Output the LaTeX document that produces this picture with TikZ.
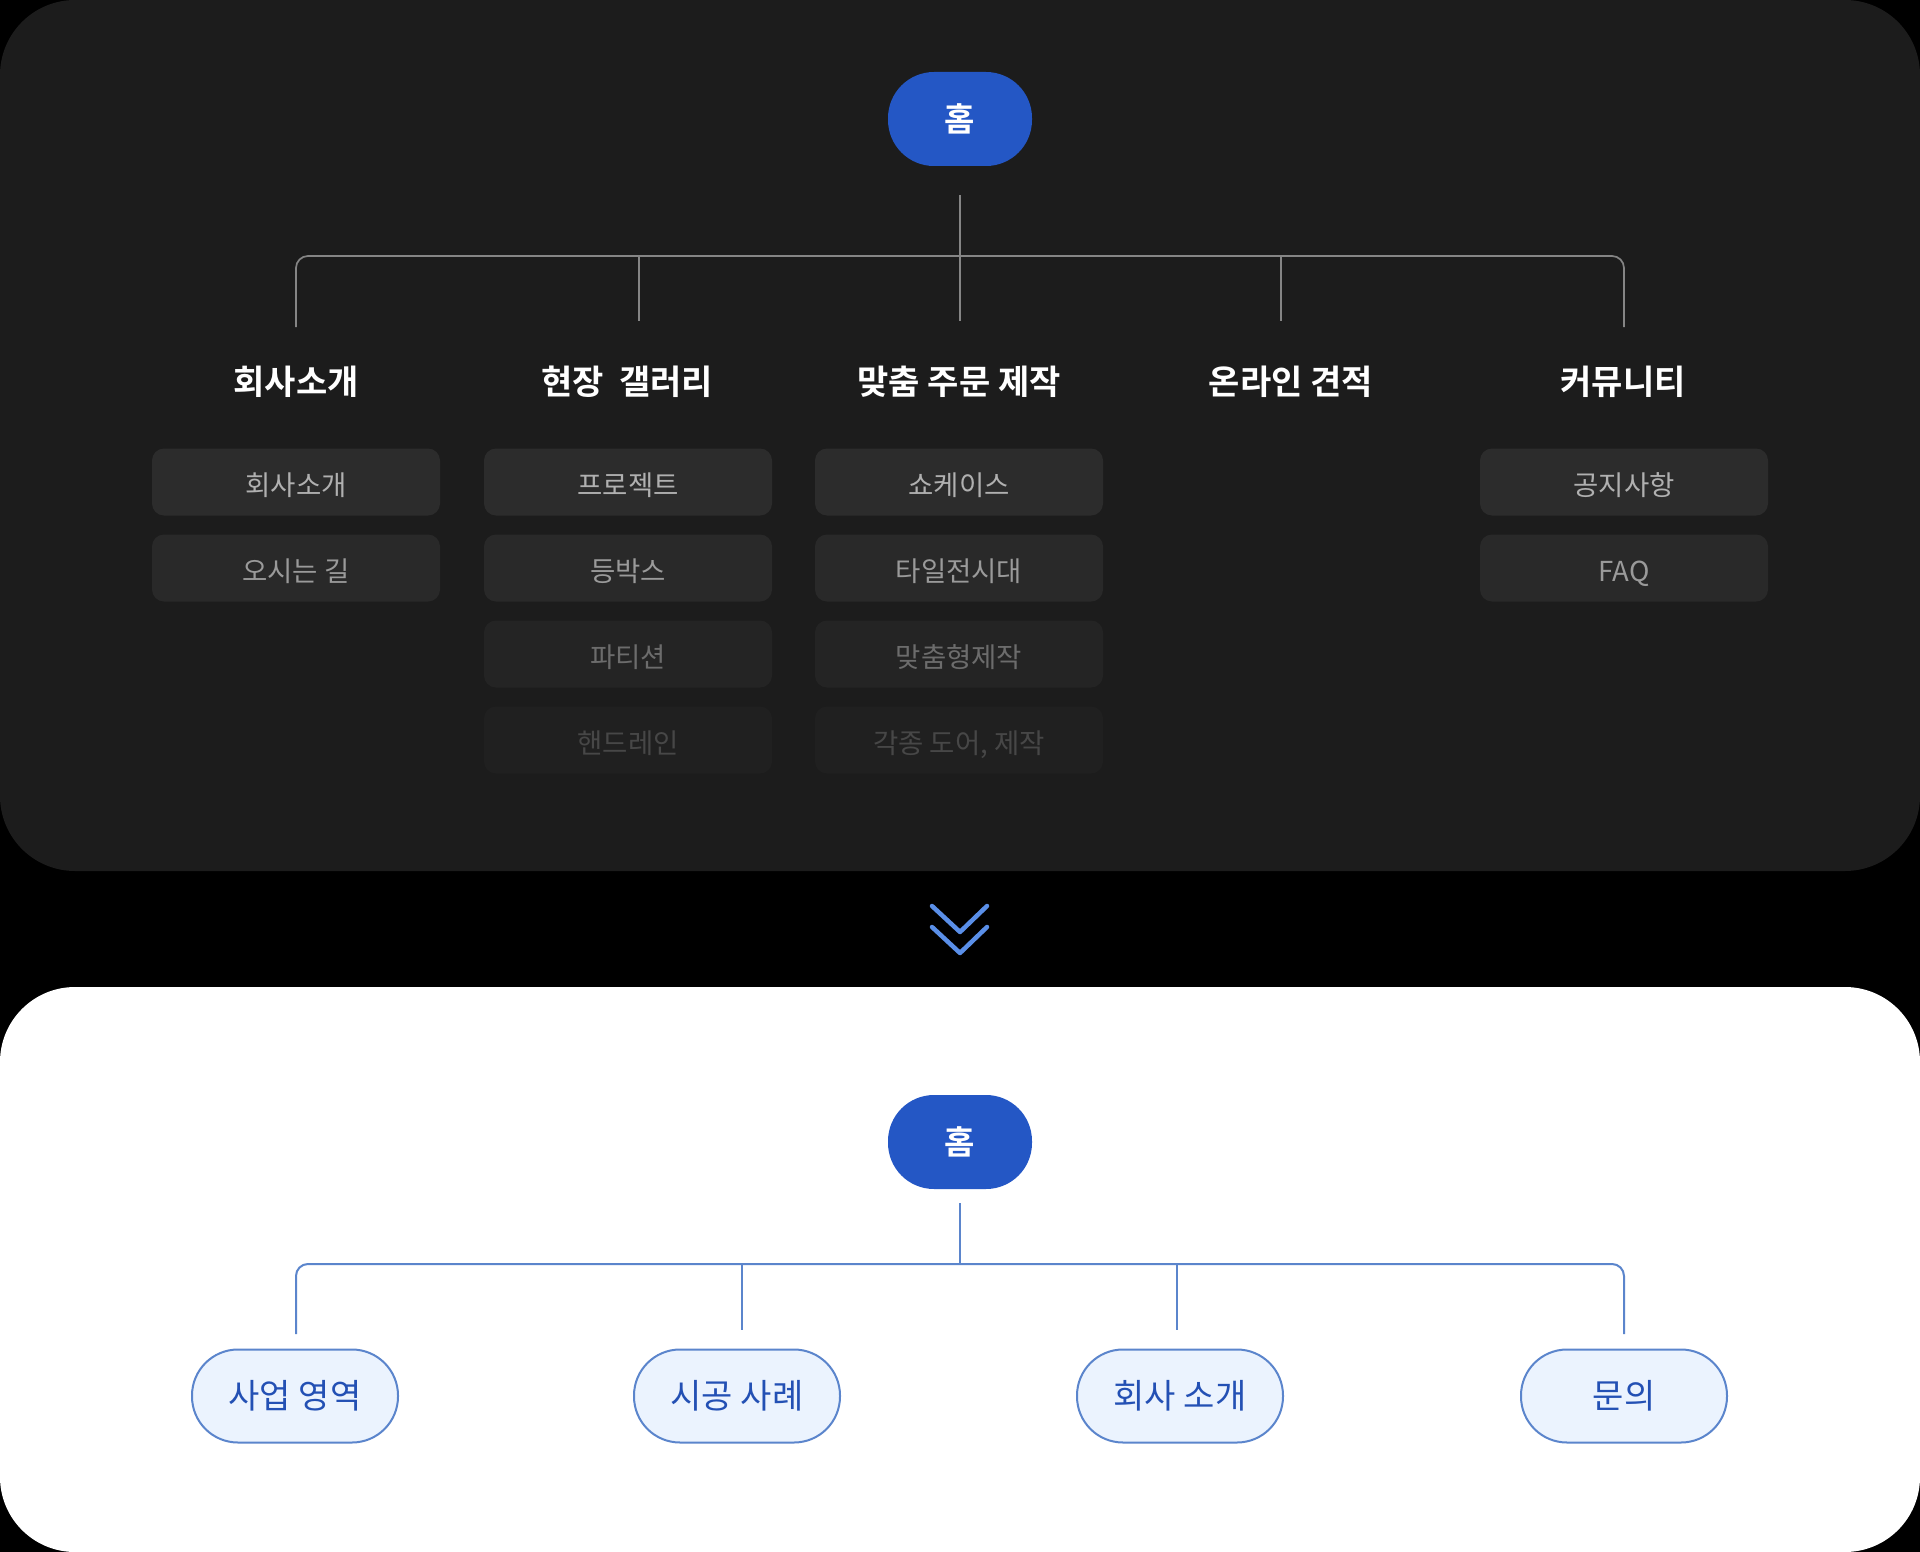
\documentclass[tikz,border=0pt]{standalone}
\usepackage{fontspec}
\setmainfont{Noto Sans CJK KR}[BoldFont={Noto Sans CJK KR Bold}]
\usetikzlibrary{calc}
\definecolor{panel}{HTML}{1C1C1C}
\definecolor{homeblue}{HTML}{2457C5}
\definecolor{linegray}{HTML}{858585}
\definecolor{lineblue}{HTML}{5B85CC}
\definecolor{leaffill}{HTML}{EBF3FE}
\definecolor{textblue}{HTML}{2350B4}
\definecolor{chevblue}{HTML}{5A8FE8}
\definecolor{boxa}{HTML}{2C2C2C}
\definecolor{boxb}{HTML}{292929}
\definecolor{boxc}{HTML}{242424}
\definecolor{boxd}{HTML}{202020}
\definecolor{txa}{HTML}{B0B0B0}
\definecolor{txb}{HTML}{9A9A9A}
\definecolor{txc}{HTML}{6C6C6C}
\definecolor{txd}{HTML}{474747}
\begin{document}
\begin{tikzpicture}[x=1pt,y=-1pt,
  home/.style={rectangle, rounded corners=46pt, fill=homeblue, minimum width=144pt, minimum height=94pt, inner sep=0pt, text=white, font=\fontsize{33}{38}\selectfont\bfseries},
  cat/.style={text=white, inner sep=0pt, font=\fontsize{34}{40}\selectfont\bfseries},
  subbox/.style={rectangle, rounded corners=12pt, minimum width=288pt, minimum height=67pt, inner sep=0pt, text height=26pt, text depth=0pt, font=\fontsize{27.5}{32}\selectfont},
  rowa/.style={subbox, fill=boxa, text=txa},
  rowb/.style={subbox, fill=boxb, text=txb},
  rowc/.style={subbox, fill=boxc, text=txc},
  rowd/.style={subbox, fill=boxd, text=txd},
  leaf/.style={rectangle, rounded corners=46pt, fill=leaffill, draw=lineblue, line width=2pt, minimum width=206pt, minimum height=93pt, inner sep=0pt, text=textblue, font=\fontsize{34}{40}\selectfont},
  gline/.style={draw=linegray, line width=1.7pt},
  bline/.style={draw=lineblue, line width=2pt},
  chev/.style={draw=chevblue, line width=4.5pt, line cap=round, line join=round},
]
\useasboundingbox (0,0) rectangle (1920,1552);
\fill[black] (0,0) rectangle (1920,1552);
\fill[panel, rounded corners=75pt] (0,0) rectangle (1920,871);
\fill[white, rounded corners=75pt] (0,987) rectangle (1920,1552);

% ---------- top tree ----------
\node[home] (h1) at (960,119) {홈};
\node[cat] (c1) at (296,382) {회사소개};
\node[cat] (c2) at (627,382) {현장\ \ 갤러리};
\node[cat] (c3) at (959,382) {맞춤 주문 제작};
\node[cat] (c4) at (1291,382) {온라인 견적};
\node[cat] (c5) at (1623,382) {커뮤니티};

\coordinate (t0) at (960,195);
\coordinate (tj) at (960,256);
\coordinate (e1) at (296,327);
\coordinate (e2) at (639,321);
\coordinate (e3) at (960,321);
\coordinate (e4) at (1281,321);
\coordinate (e5) at (1624,327);
\draw[gline, rounded corners=12pt] (e1) |- (tj) -| (e5);
\draw[gline] (t0) -- (e3);
\draw[gline] (e2 |- tj) -- (e2);
\draw[gline] (e4 |- tj) -- (e4);

% sub items
\node[rowa] (s11) at (296,482) {회사소개};
\node[rowb] (s12) at (296,568) {오시는 길};

\node[rowa] (s21) at (628,482) {프로젝트};
\node[rowb] (s22) at (628,568) {등박스};
\node[rowc] (s23) at (628,654) {파티션};
\node[rowd] (s24) at (628,740) {핸드레인};

\node[rowa] (s31) at (959,482) {쇼케이스};
\node[rowb] (s32) at (959,568) {타일전시대};
\node[rowc] (s33) at (959,654) {맞춤형제작};
\node[rowd] (s34) at (959,740) {각종 도어, 제작};

\node[rowa] (s51) at (1624,482) {공지사항};
\node[rowb] (s52) at (1624,568) {FAQ};

% ---------- chevron ----------
\coordinate (v1l) at (932,906);
\coordinate (v1m) at (960,932);
\coordinate (v1r) at (987,906);
\coordinate (v2l) at (932,927);
\coordinate (v2m) at (960,953);
\coordinate (v2r) at (987,927);
\draw[chev] (v1l) -- (v1m) -- (v1r);
\draw[chev] (v2l) -- (v2m) -- (v2r);

% ---------- bottom tree ----------
\node[home] (h2) at (960,1142) {홈};
\node[leaf] (l1) at (295,1396) {사업 영역};
\node[leaf] (l2) at (737,1396) {시공 사례};
\node[leaf] (l3) at (1180,1396) {회사 소개};
\node[leaf] (l4) at (1624,1396) {문의};

\coordinate (b0) at (960,1203);
\coordinate (bj) at (960,1264);
\coordinate (f1) at (296,1334);
\coordinate (f2) at (742,1330);
\coordinate (f3) at (1177,1330);
\coordinate (f4) at (1624,1334);
\draw[bline, rounded corners=12pt] (f1) |- (bj) -| (f4);
\draw[bline] (b0) -- (bj);
\draw[bline] (f2 |- bj) -- (f2);
\draw[bline] (f3 |- bj) -- (f3);
\end{tikzpicture}
\end{document}
